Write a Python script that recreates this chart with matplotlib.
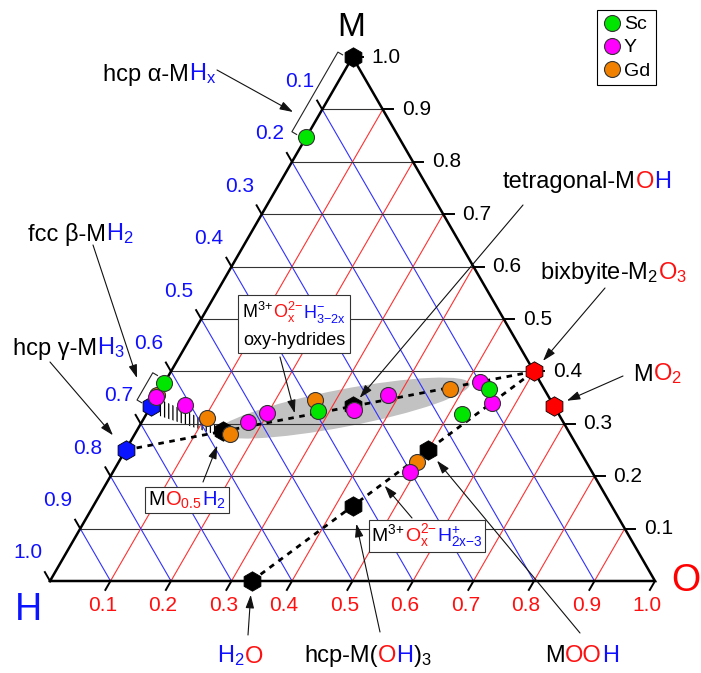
import numpy as np
import matplotlib
matplotlib.use("Agg")
import matplotlib.pyplot as plt
from matplotlib.lines import Line2D
from matplotlib.patches import Ellipse, Polygon
from matplotlib.offsetbox import TextArea, HPacker, VPacker, AnnotationBbox

plt.rcParams["font.family"] = ["Liberation Sans", "DejaVu Sans"]
plt.rcParams["mathtext.fontset"] = "custom"
plt.rcParams["mathtext.rm"] = "Liberation Sans"
plt.rcParams["mathtext.it"] = "Liberation Sans"
plt.rcParams["mathtext.bf"] = "Liberation Sans:bold"
plt.rcParams["mathtext.default"] = "regular"
plt.rcParams["hatch.linewidth"] = 0.9

# ---- measured film compositions, atomic fractions (H, O, M) ----
sc_H = [0.153, 0.622, 0.395, 0.091, 0.159]
sc_O = [0.000, 0.000, 0.281, 0.543, 0.522]
sc_M = [0.847, 0.378, 0.324, 0.366, 0.319]

y_H = [0.649, 0.609, 0.521, 0.481, 0.335, 0.264, 0.099, 0.099, 0.301]
y_O = [0.000, 0.055, 0.176, 0.198, 0.339, 0.381, 0.521, 0.561, 0.491]
y_M = [0.351, 0.336, 0.303, 0.321, 0.326, 0.355, 0.380, 0.340, 0.208]

gd_H = [0.645, 0.585, 0.562, 0.390, 0.156, 0.280]
gd_O = [0.000, 0.104, 0.157, 0.265, 0.478, 0.493]
gd_M = [0.355, 0.311, 0.281, 0.345, 0.366, 0.227]

# ---- reference phases as formula units (M, O, H) ----
phase_names = ["M", "MH2", "MH3", "MO0.5H2", "MOH", "M2O3", "MO2", "H2O", "M(OH)3", "MOOH"]
phase_nM = [1, 1, 1, 1, 1, 2, 1, 0, 1, 1]
phase_nO = [0, 0, 0, 0.5, 1, 3, 2, 1, 3, 2]
phase_nH = [0, 2, 3, 2, 1, 0, 0, 2, 3, 1]
phase_kind = ["metal", "hydride", "hydride", "metal", "metal", "oxide", "oxide", "metal", "metal", "metal"]

tick_values = [0.1, 0.2, 0.3, 0.4, 0.5, 0.6, 0.7, 0.8, 0.9, 1.0]
tick_labels = ["0.1", "0.2", "0.3", "0.4", "0.5", "0.6", "0.7", "0.8", "0.9", "1.0"]

BLUE = "#1010ff"
RED = "#ff1010"
GREEN = "#00e600"
MAGENTA = "#ff00ff"
ORANGE = "#f08000"
kind_color = {"metal": "black", "hydride": "#0a14ff", "oxide": "#ff0000"}

SQ = np.sqrt(3) / 2


def cart(h, o, m):
    h, o, m = np.asarray(h, float), np.asarray(o, float), np.asarray(m, float)
    return o + 0.5 * m, SQ * m


def formula(nM, nO, nH):
    t = nM + nO + nH
    return nH / t, nO / t, nM / t


def px(x, y):
    # layout helper: image pixel position -> axes data position
    return ((x - 50) / 605.0, (581 - y) / 605.0)


fig = plt.figure(figsize=(7.01, 6.73), dpi=100)
ax = fig.add_axes([0, 0, 1, 1])
ax.set_xlim(-50 / 605, 651 / 605)
ax.set_ylim(-92 / 605, 581 / 605)
ax.set_aspect("equal")
ax.axis("off")

phase_xy = {}
for n, a, b, c in zip(phase_names, phase_nM, phase_nO, phase_nH):
    phase_xy[n] = cart(*formula(a, b, c))

# ---- highlighted oxy-hydride band and hatched mixed-phase region ----
band_c = cart(*formula(1, 0.97, 3 - 2 * 0.97))
xa, ya = phase_xy["MO0.5H2"]
xb, yb = phase_xy["M2O3"]
band_ang = np.degrees(np.arctan2(yb - ya, xb - xa))
ax.add_patch(Ellipse(band_c, 0.425, 0.062, angle=band_ang, facecolor="#c2c2c2",
                     edgecolor="none", zorder=1))

hatch_H = [0.645, 0.661, 0.578, 0.570]
hatch_O = [0.008, 0.024, 0.147, 0.138]
hatch_M = [0.347, 0.315, 0.275, 0.292]
hx, hy = cart(hatch_H, hatch_O, hatch_M)
ax.add_patch(Polygon(np.column_stack([hx, hy]), closed=True, facecolor="none",
                     edgecolor="black", lw=0, hatch="||||", zorder=2))

# ---- grid ----
for v in tick_values[:-1]:
    x, y = cart([1 - v, 0], [0, 1 - v], [v, v])
    ax.plot(x, y, color="#333333", lw=0.8, zorder=2)
    x, y = cart([v, v], [0, 1 - v], [1 - v, 0])
    ax.plot(x, y, color="#3030ff", lw=0.8, zorder=2)
    x, y = cart([1 - v, 0], [v, v], [0, 1 - v])
    ax.plot(x, y, color="#ff3030", lw=0.8, zorder=2)

# triangle frame
x, y = cart([1, 0, 0, 1], [0, 1, 0, 0], [0, 0, 1, 0])
ax.plot(x, y, color="black", lw=1.8, zorder=3, solid_joinstyle="miter")

# ---- ticks and tick labels ----
TL = 0.017
TFS = 15
for v, lab in zip(tick_values, tick_labels):
    # H axis (left edge)
    x0, y0 = cart(v, 0, 1 - v)
    ax.plot([x0, x0 - 0.5 * TL], [y0, y0 + SQ * TL], color="black", lw=1.4, zorder=3)
    ax.text(x0 - 0.0132, y0 + 0.0463, lab, color=BLUE, fontsize=TFS, ha="right", va="center")
    # O axis (bottom edge)
    x0, y0 = cart(1 - v, v, 0)
    ax.plot([x0, x0 - 0.5 * TL], [y0, y0 - SQ * TL], color="black", lw=1.4, zorder=3)
    ax.text(x0 - 0.0132, y0 - 0.0397, lab, color=RED, fontsize=TFS, ha="center", va="center")
    # M axis (right edge)
    x0, y0 = cart(0, 1 - v, v)
    ax.plot([x0, x0 + TL], [y0, y0], color="black", lw=1.4, zorder=3)
    ax.text(x0 + 0.0314, y0, lab, color="black", fontsize=TFS, ha="left", va="center")

# corner labels
ax.text(*px(351, 27), "M", fontsize=24, color="black", ha="center", va="center")
ax.text(*px(28, 610), "H", fontsize=27, color="#0a14ff", ha="center", va="center")
ax.text(*px(686, 581), "O", fontsize=27, color="#ff0000", ha="center", va="center")

# ---- composition lines ----
dash = dict(color="black", lw=2.0, ls=(0, (2, 2)), zorder=4)
for a, b in [("MH3", "MO0.5H2"), ("MO0.5H2", "M2O3"), ("H2O", "M2O3")]:
    ax.plot([phase_xy[a][0], phase_xy[b][0]], [phase_xy[a][1], phase_xy[b][1]], **dash)


# ---- brackets along the M-H edge ----
def bracket(h0, h1, off=0.025, tick=0.009):
    n = np.array([-SQ, 0.5])
    p0 = np.array(cart(h0, 0, 1 - h0)) + off * n
    p1 = np.array(cart(h1, 0, 1 - h1)) + off * n
    pts = np.array([p0 - tick * n, p0, p1, p1 - tick * n])
    ax.plot(pts[:, 0], pts[:, 1], color="#222222", lw=0.8, zorder=3)


bracket(0.005, 0.157)
bracket(0.617, 0.669)

# ---- reference phases (hexagons) ----
for n, k in zip(phase_names, phase_kind):
    ax.plot(*phase_xy[n], marker="h", ms=14, mfc=kind_color[k], mec="black",
            mew=0.6, ls="", zorder=6)

# ---- measured points ----
for H, O, M, col in [(gd_H, gd_O, gd_M, ORANGE), (y_H, y_O, y_M, MAGENTA), (sc_H, sc_O, sc_M, GREEN)]:
    x, y = cart(H, O, M)
    ax.plot(x, y, marker="o", ms=11.5, mfc=col, mec="#333333", mew=0.8, ls="", zorder=7)

# ---- legend ----
handles = [Line2D([], [], marker="o", ls="", ms=11.5, mfc=c, mec="#333333", mew=0.8)
           for c in (GREEN, MAGENTA, ORANGE)]
leg = ax.legend(handles, ["Sc", "Y", "Gd"], loc="upper right",
                bbox_to_anchor=(656 / 701, 1 - 10 / 673), bbox_transform=fig.transFigure,
                frameon=True, fancybox=False, edgecolor="black", framealpha=1,
                fontsize=14, handletextpad=0.1, handlelength=1.0, borderpad=0.3,
                labelspacing=0.28, borderaxespad=0)
leg.get_frame().set_linewidth(0.8)


# ---- labels with coloured parts ----
def rich(parts, size):
    kids = [TextArea(s, textprops=dict(color=c, fontsize=size)) for s, c in parts]
    return HPacker(children=kids, align="baseline", pad=0, sep=0)


def place(box, xy, align=(0.5, 0.5), frame=False, pad=0.25):
    ab = AnnotationBbox(box, xy, xycoords="data", box_alignment=align, frameon=frame,
                        pad=pad, bboxprops=dict(edgecolor="#333333", lw=0.8, facecolor="white"),
                        zorder=9)
    ax.add_artist(ab)


arrow_kw = dict(arrowstyle="-|>,head_length=0.5,head_width=0.16", color="#111111",
                lw=0.8, mutation_scale=16, shrinkA=0)


def arrow(tail, tip, shrink=0):
    ax.annotate("", xy=tip, xytext=tail, xycoords="data", textcoords="data",
                arrowprops=dict(arrow_kw, shrinkB=shrink), zorder=8)


K = "black"
place(rich([("hcp α-M", K), ("H$_x$", BLUE)], 17), px(103, 74), align=(0, 0.5))
arrow(px(217, 70), px(293, 112))

place(rich([("fcc β-M", K), ("H$_2$", BLUE)], 17), px(28, 234), align=(0, 0.5))
arrow(px(93, 245), px(137, 378))

place(rich([("hcp γ-M", K), ("H$_3$", BLUE)], 17), px(13, 348), align=(0, 0.5))
arrow(px(50, 362), phase_xy["MH3"], shrink=14)

place(rich([("tetragonal-M", K), ("O", RED), ("H", BLUE)], 17), px(503, 182), align=(0, 0.5))
arrow(px(523, 205), phase_xy["MOH"], shrink=8)

place(rich([("bixbyite-M$_2$", K), ("O$_3$", RED)], 17), px(540, 273), align=(0, 0.5))
arrow(px(605, 288), phase_xy["M2O3"], shrink=10)

place(rich([("M", K), ("O$_2$", RED)], 17), px(633, 374), align=(0, 0.5))
arrow(px(623, 376), phase_xy["MO2"], shrink=10)

oxy = VPacker(children=[rich([("M$^{3{+}}$", K), ("O$^{2{-}}_{x}$", RED), ("H$^{{-}}_{3{-}2x}$", BLUE)], 13),
                        TextArea("oxy-hydrides", textprops=dict(color=K, fontsize=13))],
              align="center", pad=0, sep=5)
place(oxy, px(294, 324), frame=True, pad=0.3)
arrow(px(280, 357), cart(*formula(1, 0.8, 3 - 2 * 0.8)), shrink=3)

place(rich([("M", K), ("O$_{0.5}$", RED), ("H$_2$", BLUE)], 14.5), px(187, 500), frame=True, pad=0.2)
arrow(px(203, 482), phase_xy["MO0.5H2"], shrink=11)

place(rich([("H$_2$", BLUE), ("O", RED)], 17), px(240, 656))
arrow(px(248, 635), phase_xy["H2O"], shrink=10)

place(rich([("hcp-M(", K), ("O", RED), ("H", BLUE), (")$_3$", K)], 17), px(368, 656))
arrow(px(380, 632), phase_xy["M(OH)3"], shrink=13)

place(rich([("M", K), ("OO", RED), ("H", BLUE)], 17), px(582, 656))
arrow(px(580, 633), phase_xy["MOOH"], shrink=10)

place(rich([("M$^{3{+}}$", K), ("O$^{2{-}}_{x}$", RED), ("H$^{{+}}_{2x{-}3}$", BLUE)], 14), px(427, 536),
      frame=True, pad=0.2)
arrow(px(412, 518), cart(*formula(1, 2.46, 2 * 2.46 - 3)), shrink=2)

fig.savefig("out.png", dpi=100)
